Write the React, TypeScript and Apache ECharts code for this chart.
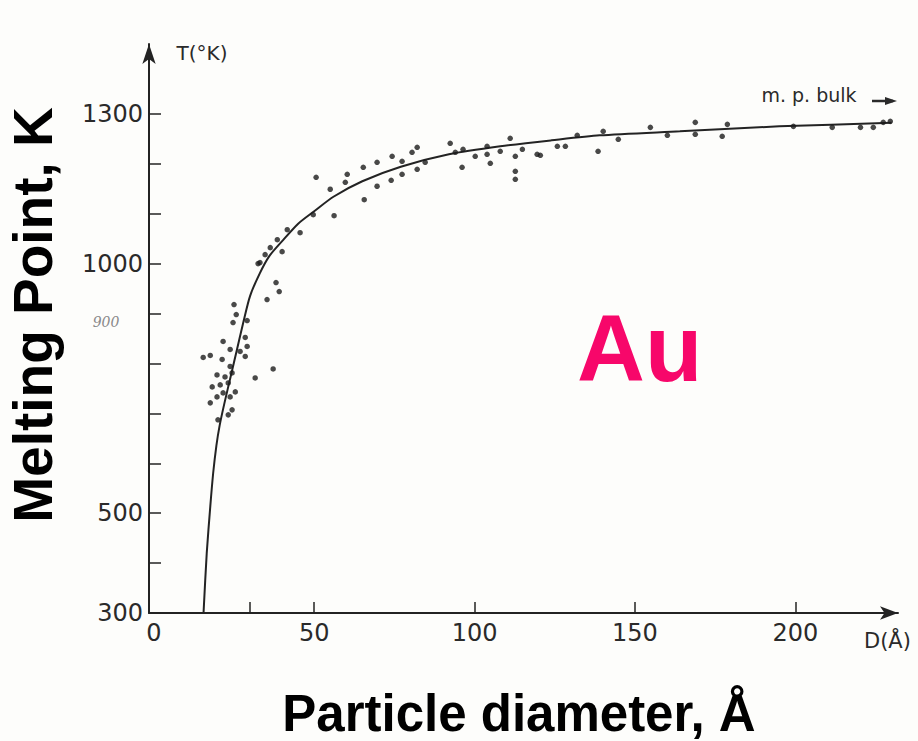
import React, { useEffect, useRef } from "react";
import * as echarts from "echarts";

// Fitted melting-point curve
const curveD = [15.5, 16.5, 17.6, 18.5, 19.5, 20.5, 22, 24, 26, 28, 30, 33, 36, 40, 45, 50, 56, 65, 77, 92, 108, 124, 139, 164, 195, 230];
const curveT = [300, 420, 513, 580, 635, 675, 720, 775, 830, 885, 935, 980, 1015, 1045, 1080, 1105, 1134, 1165, 1194, 1219, 1235, 1247, 1257, 1265, 1275, 1282];

const dotD = [
  32.5, 38.1, 39.1, 35.3, 25.0, 25.7, 24.7, 29.1, 28.5, 21.6, 29.1, 23.8, 26.9, 28.5, 15.4, 17.6, 21.3, 23.8, 37.2, 31.6,
  19.7, 22.2, 24.4, 18.2, 20.7, 23.2, 25.4, 21.6, 19.7, 23.8, 17.6, 24.4, 23.2, 20.0,
  50.6, 56.2, 60.3, 59.7, 55.0, 49.7, 45.6, 41.6, 40.0, 36.3, 38.5, 33.1, 34.7,
  65.3, 65.6, 69.6, 69.6, 74.3, 74.0, 77.4, 77.4, 80.5, 82.1, 82.1, 84.6, 92.4, 94.0, 96.1, 96.4, 100.2, 103.9, 103.9,
  104.9, 108.0, 111.1, 112.7, 112.7, 112.7, 114.9, 119.5, 120.5, 125.8, 128.3, 132.0, 138.5,
  140.1, 144.8, 154.8, 160.1, 168.8, 168.8, 177.2, 178.8, 199.4, 211.5, 220.3, 224.3, 227.4, 229.6,
];
const dotT = [
  1000, 962, 944, 928, 918, 898, 882, 886, 852, 844, 834, 828, 824, 814, 812, 816, 808, 794, 789, 771,
  777, 773, 781, 753, 757, 761, 743, 741, 733, 733, 721, 707, 697, 687,
  1173, 1096, 1179, 1163, 1149, 1098, 1062, 1068, 1024, 1032, 1048, 1002, 1018,
  1193, 1128, 1203, 1155, 1215, 1167, 1179, 1205, 1223, 1233, 1189, 1203, 1241, 1223, 1193, 1229, 1215, 1235, 1219,
  1201, 1225, 1251, 1215, 1185, 1169, 1229, 1219, 1217, 1235, 1235, 1257, 1225,
  1265, 1249, 1273, 1257, 1283, 1259, 1255, 1279, 1275, 1273, 1273, 1273, 1283, 1285,
];

const xTickValues = [30, 50, 100, 150, 200];
const xLabelValues = [0, 50, 100, 150, 200];
const yTickValues = [300, 400, 500, 600, 700, 800, 900, 1000, 1100, 1200, 1300];
const yLabelValues = [300, 500, 1000, 1300];

export default function App() {
  const ref = useRef<HTMLDivElement>(null);

  useEffect(() => {
    if (!ref.current) return;
    const chart = echarts.init(ref.current, null, { renderer: "svg" });
    const ink = "#232323";
    const scanFont = "DejaVu Sans";
    chart.setOption({
      animation: false,
      backgroundColor: "#fdfdfb",
      grid: { left: 149, right: 20, top: 44, bottom: 128, containLabel: false },
      xAxis: {
        type: "value",
        min: -1.5,
        max: 232,
        axisLine: {
          show: true,
          onZero: false,
          symbol: ["none", "arrow"],
          symbolSize: [10, 18],
          lineStyle: { color: ink, width: 2 },
        },
        axisTick: {
          show: true,
          inside: true,
          length: 11,
          customValues: xTickValues,
          lineStyle: { color: ink, width: 1.5 },
        },
        axisLabel: {
          customValues: xLabelValues,
          formatter: (v: number) => String(v),
          fontFamily: scanFont,
          fontSize: 24,
          color: "#2a2a2a",
          margin: 8,
        },
        splitLine: { show: false },
      },
      yAxis: {
        type: "value",
        min: 300,
        max: 1440,
        axisLine: {
          show: true,
          onZero: false,
          symbol: ["none", "arrow"],
          symbolSize: [10, 20],
          lineStyle: { color: ink, width: 2 },
        },
        axisTick: {
          show: true,
          inside: true,
          length: 12,
          customValues: yTickValues,
          lineStyle: { color: ink, width: 1.5 },
        },
        axisLabel: {
          customValues: yLabelValues,
          formatter: (v: number) => String(v),
          fontFamily: scanFont,
          fontSize: 24,
          color: "#2a2a2a",
          margin: 6,
          padding: [0, 0, 20, 0],
        },
        splitLine: { show: false },
      },
      series: [
        {
          type: "line",
          data: curveD.map((d, i) => [d, curveT[i]]),
          showSymbol: false,
          smooth: 0.25,
          lineStyle: { color: ink, width: 2 },
          z: 2,
        },
        {
          type: "scatter",
          data: dotD.map((d, i) => [d, dotT[i]]),
          symbol: "circle",
          symbolSize: 5.5,
          itemStyle: { color: "#1c1c1c" },
          z: 3,
        },
      ],
      graphic: [
        {
          type: "text",
          x: 202,
          y: 53,
          style: { text: "T(°K)", font: `20px '${scanFont}'`, fill: "#2a2a2a", textAlign: "center", textVerticalAlign: "middle" },
        },
        {
          type: "text",
          x: 809,
          y: 95,
          style: { text: "m. p. bulk", font: `19px '${scanFont}'`, fill: "#2a2a2a", textAlign: "center", textVerticalAlign: "middle" },
        },
        {
          type: "line",
          shape: { x1: 872, y1: 101, x2: 893, y2: 101 },
          style: { stroke: "#2a2a2a", lineWidth: 2.5 },
        },
        {
          type: "polygon",
          shape: { points: [[885, 97], [897, 101], [885, 105]] },
          style: { fill: "#2a2a2a" },
        },
        {
          type: "text",
          x: 864,
          y: 641,
          style: { text: "D(Å)", font: `21px '${scanFont}'`, fill: "#2a2a2a", textAlign: "left", textVerticalAlign: "middle" },
        },
        {
          type: "text",
          x: 106,
          y: 322,
          style: { text: "900", font: `italic 14px 'DejaVu Serif'`, fill: "#8a8a8a", textAlign: "center", textVerticalAlign: "middle" },
        },
        {
          type: "text",
          x: 577,
          y: 348,
          style: { text: "Au", font: `bold 94px 'Liberation Sans'`, fill: "#f7076a", textAlign: "left", textVerticalAlign: "middle" },
        },
        {
          type: "text",
          x: 33,
          y: 315,
          rotation: Math.PI / 2,
          style: { text: "Melting Point, K", font: `bold 55px 'Liberation Sans'`, fill: "#000", textAlign: "center", textVerticalAlign: "middle" },
        },
        {
          type: "text",
          x: 519,
          y: 713,
          style: { text: "Particle diameter, Å", font: `bold 51px 'Liberation Sans'`, fill: "#000", textAlign: "center", textVerticalAlign: "middle" },
        },
      ],
    });
    return () => chart.dispose();
  }, []);

  return (
    <div
      ref={ref}
      style={{ position: "fixed", left: 0, top: 0, width: 918, height: 741, background: "#fdfdfb" }}
    />
  );
}
